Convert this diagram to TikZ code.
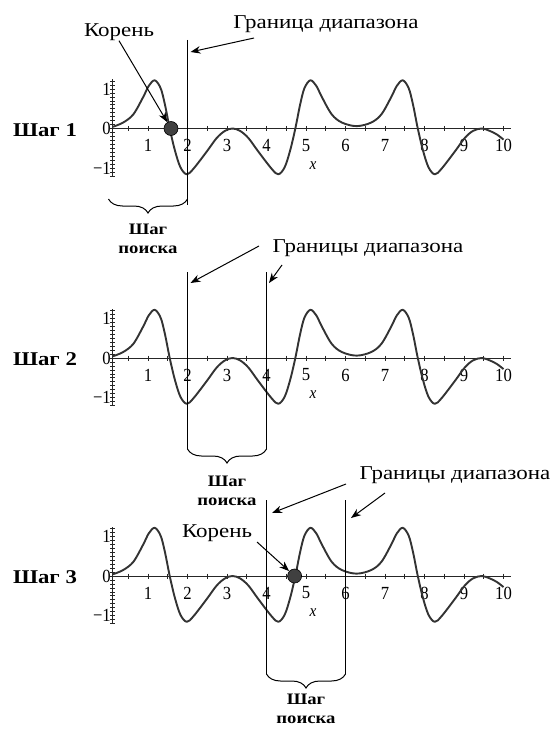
\documentclass[tikz,border=0pt]{standalone}
\usepackage{fontspec}
\setmainfont{Liberation Serif}[FakeStretch=1.17]
\newfontfamily\tickf{Liberation Serif}[FakeStretch=0.9]
\usetikzlibrary{arrows.meta,decorations.pathreplacing}

\tikzset{
  axisline/.style={line width=0.9pt, black!85},
  minortick/.style={line width=0.6pt, black!85},
  curve/.style={line width=1.9pt, black!80, line join=round},
  bound/.style={line width=1.1pt, black},
  arr/.style={line width=1pt, -{Stealth[length=10pt,width=7.5pt]}},
  annot/.style={font=\fontsize{19.6}{22}\selectfont, inner sep=0pt},
  steplabel/.style={font=\bfseries\fontsize{19.5}{22}\selectfont, inner sep=0pt},
  searchlabel/.style={font=\bfseries\fontsize{16}{18.5}\selectfont, align=center, inner sep=0pt},
  ticklab/.style={font=\tickf\fontsize{18.5}{20}\selectfont, inner sep=0pt},
  xlab/.style={font=\tickf\itshape\fontsize{17}{20}\selectfont, inner sep=0pt},
  rootdot/.style={circle, fill=black!75, draw=black, line width=0.6pt, minimum size=14pt, inner sep=0pt},
  bracestyle/.style={decorate, decoration={brace, mirror, amplitude=14pt}, line width=1pt},
}

% #1 axis y (px), #2 name suffix, #3 step number
\newcommand\mypanel[3]{%
  \draw[axisline] (112.5,#1-49) -- (112.5,#1+48);
  \foreach \k in {-12,...,12}
    \draw[minortick] (110,{#1-3.95*\k}) -- (115,{#1-3.95*\k});
  \draw[axisline] (112.5,#1) -- (511,#1);
  \foreach \k in {1,...,20}
    \draw[minortick] ({108.5+19.75*\k},#1-2.5) -- ({108.5+19.75*\k},#1+2.5);
  \foreach \k in {1,...,10}
    \node[ticklab] (xt#2\k) at ({108.5+39.5*\k},#1+17) {\k};
  \node[ticklab, anchor=east] (yp#2) at (111,#1-39.5) {1};
  \node[ticklab, anchor=east] (yz#2) at (111,#1) {0};
  \node[ticklab, anchor=east] (ym#2) at (111,#1+39.5) {−1};
  \node[xlab] (xl#2) at (313,#1+37) {x};
  \begin{scope}[shift={(108.5,#1)}, x=39.5pt, y=39.5pt]
    \draw[curve] plot[smooth, tension=0.55] coordinates {
      (0.10,0.04) (0.37,0.15) (0.63,0.36) (0.88,0.80) (1.02,1.08) (1.17,1.22)
      (1.32,1.02) (1.43,0.60) (1.55,0.00) (1.68,-0.55) (1.82,-0.98) (1.98,-1.16)
      (2.15,-1.02) (2.49,-0.58) (2.74,-0.24) (2.95,-0.06) (3.14,0.00)
      (3.33,-0.06) (3.54,-0.24) (3.79,-0.58) (4.13,-1.02) (4.30,-1.16)
      (4.46,-0.98) (4.60,-0.55) (4.73,0.00) (4.85,0.60) (4.96,1.02) (5.11,1.22)
      (5.26,1.08) (5.40,0.80) (5.65,0.36) (5.91,0.15) (6.28,0.06)
      (6.65,0.15) (6.91,0.36) (7.16,0.80) (7.30,1.08) (7.45,1.22)
      (7.60,1.02) (7.71,0.60) (7.83,0.00) (7.96,-0.55) (8.10,-0.98) (8.26,-1.16)
      (8.43,-1.02) (8.77,-0.58) (9.02,-0.24) (9.23,-0.06) (9.45,0.00)
      (9.65,-0.06) (9.83,-0.15) (10.0,-0.28)};
  \end{scope}
  \node[steplabel] (step#2) at (45,#1+1.5) {Шаг #3};
}

\begin{document}
\begin{tikzpicture}[x=1pt,y=-1pt]
\useasboundingbox (0,0) rectangle (555,733);

\mypanel{128.5}{a}{1}
\mypanel{358}{b}{2}
\mypanel{576}{c}{3}

% ---------- panel 1 ----------
\coordinate (l1t) at (187.5,40);
\coordinate (l1b) at (187.5,205);
\draw[bound] (l1t) -- (l1b);
\node[rootdot] (root1) at (171,128.5) {};
\node[annot] (kor1) at (119,32) {Корень};
\draw[arr] (kor1.south) -- (root1);
\node[annot] (gr1) at (326,24) {Граница диапазона};
\coordinate (g1s) at (254,38);
\coordinate (g1e) at (190.5,52);
\draw[arr] (g1s) -- (g1e);
\coordinate (b1l) at (108.5,199);
\coordinate (b1r) at (187.5,199);
\draw[bracestyle] (b1l) -- (b1r);
\node[searchlabel, anchor=north] (s1) at (148,224) {Шаг\\поиска};

% ---------- panel 2 ----------
\coordinate (l2at) at (187.5,272);
\coordinate (l2ab) at (187.5,449);
\coordinate (l2bt) at (266.5,272);
\coordinate (l2bb) at (266.5,449);
\draw[bound] (l2at) -- (l2ab);
\draw[bound] (l2bt) -- (l2bb);
\node[annot] (gr2) at (368,248) {Границы диапазона};
\coordinate (g2s) at (259,246);
\coordinate (g2e) at (190.5,283);
\coordinate (g2t) at (282,265);
\coordinate (g2f) at (269,283);
\draw[arr] (g2s) -- (g2e);
\draw[arr] (g2t) -- (g2f);
\draw[bracestyle] (l2ab) -- (l2bb);
\node[searchlabel, anchor=north] (s2) at (227,476) {Шаг\\поиска};

% ---------- panel 3 ----------
\coordinate (l3at) at (266.5,500);
\coordinate (l3ab) at (266.5,674);
\coordinate (l3bt) at (345.5,500);
\coordinate (l3bb) at (345.5,674);
\draw[bound] (l3at) -- (l3ab);
\draw[bound] (l3bt) -- (l3bb);
\node[rootdot] (root3) at (294.6,576) {};
\node[annot] (kor3) at (217,533) {Корень};
\coordinate (k3s) at (257,542);
\draw[arr] (k3s) -- (root3);
\node[annot] (gr3) at (455,475) {Границы диапазона};
\coordinate (g3s) at (346,484);
\coordinate (g3e) at (272,513);
\coordinate (g3t) at (385,493);
\coordinate (g3f) at (351,518);
\draw[arr] (g3s) -- (g3e);
\draw[arr] (g3t) -- (g3f);
\draw[bracestyle] (l3ab) -- (l3bb);
\node[searchlabel, anchor=north] (s3) at (306,694) {Шаг\\поиска};
\end{tikzpicture}
\end{document}
